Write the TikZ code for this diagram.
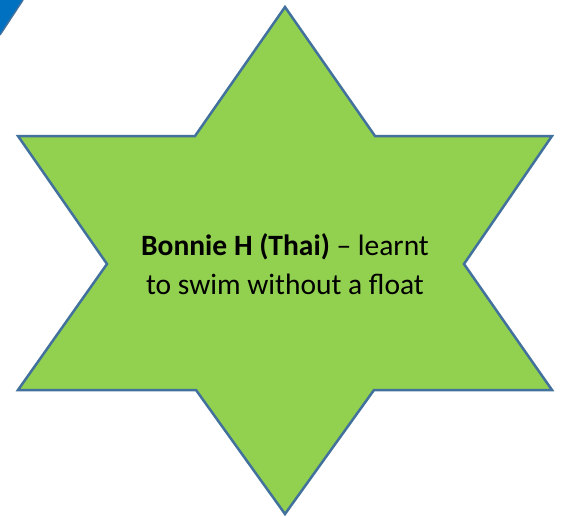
\documentclass[tikz,border=0pt]{standalone}
\usepackage{fontspec}
\setmainfont{Carlito}
\usepackage{tikz}
\usetikzlibrary{positioning}

\definecolor{stargreen}{HTML}{92D050}
\definecolor{staredge}{HTML}{41719C}
\definecolor{cornerblue}{HTML}{0070C0}

\begin{document}
\begin{tikzpicture}[x=1pt,y=-1pt]
    \useasboundingbox (0,0) rectangle (563,517);

    % Corner piece
    \fill[cornerblue] (0,0) -- (23,0) -- (0,35) -- cycle;
    \draw[staredge,line width=1.5pt] (23,0) -- (0,35);

    % Star
    \draw[fill=stargreen,draw=staredge,line width=2.5pt,line join=miter]
        (285,7) -- (375,136) -- (552,136) -- (464,264) -- (552,390)
        -- (374,390) -- (285,514) -- (196,390) -- (18,390) -- (107,264)
        -- (18,136) -- (195,136) -- cycle;

    % Label
    \node[align=center,font=\fontsize{29.5}{39}\selectfont] (label) at (285,264)
        {\textbf{Bonnie H (Thai)} -- learnt\\to swim without a float};
\end{tikzpicture}
\end{document}
